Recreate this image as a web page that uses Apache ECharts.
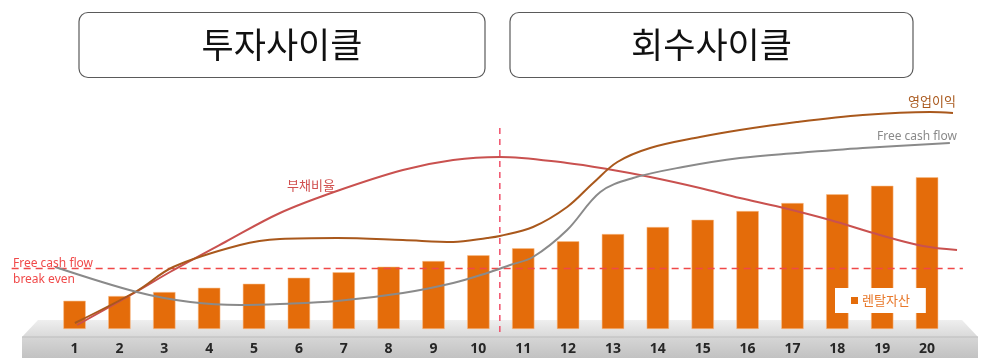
<!DOCTYPE html>
<html>
<head>
<meta charset="utf-8">
<style>
  html, body { margin: 0; padding: 0; background: #ffffff; }
  #chart { width: 989px; height: 358px; }
</style>
<script src="https://cdn.jsdelivr.net/npm/echarts@6/dist/echarts.min.js"></script>
</head>
<body>
<div id="chart"></div>
<script>
// ---- data ----
const categories = ['1','2','3','4','5','6','7','8','9','10','11','12','13','14','15','16','17','18','19','20'];
const rentalAssets = [11.3, 13.2, 14.8, 16.5, 18.1, 20.5, 22.7, 24.9, 27.2, 29.5, 32.3, 35.1, 38.0, 40.8, 43.7, 47.2, 50.4, 53.9, 57.3, 60.7];
const debtRatio = [[1.06,1.6],[2.39,15.0],[3.13,22.8],[4.36,34.8],[5.58,46.4],[6.85,55.2],[8.32,63.6],[9.44,67.6],[10.48,68.8],[11.98,66.4],[12.87,64.0],[13.83,60.8],[14.94,56.4],[15.83,52.4],[16.72,48.8],[17.84,43.6],[18.95,37.6],[19.91,33.2],[20.67,31.6]];
const operatingProfit = [[1.01,2.4],[2.39,15.2],[3.2,24.8],[4.69,33.6],[5.58,36.0],[6.85,36.4],[8.32,35.6],[9.44,34.8],[10.2,36.4],[10.48,37.2],[11.22,40.8],[11.98,48.8],[12.56,58.4],[13.1,66.8],[13.83,72.4],[14.94,76.8],[15.83,79.6],[17.1,82.8],[18.57,85.6],[20.07,86.8],[20.58,86.4]];
const freeCashFlow = [[0.57,24.8],[2.39,14.8],[3.58,10.8],[4.69,9.6],[5.58,10.0],[6.85,11.2],[8.32,14.4],[9.44,18.4],[10.2,22.4],[10.71,25.6],[11.22,28.8],[11.98,39.6],[12.72,54.8],[13.45,60.4],[14.56,64.8],[15.83,68.4],[17.1,70.4],[18.57,72.4],[20.51,74.4]];
const breakEvenLevel = 24.2;
const breakEvenSpan = [-0.4, 20.8];
const cycleBoundary = 10.48;
const cycleBoundarySpan = [-1.2, 81.6];
const cycleTitles = ['투자사이클', '회수사이클'];

// ---- chart ----
const chart = echarts.init(document.getElementById('chart'));
const KR = "'Noto Sans CJK KR', 'Noto Sans', sans-serif";

function cycleBox(x, w, label) {
  return {
    type: 'group',
    children: [
      { type: 'rect', shape: { x: x, y: 12.5, width: w, height: 65, r: 9 },
        style: { fill: '#ffffff', stroke: '#5a5a5a', lineWidth: 1.2 } },
      { type: 'text', x: x + w / 2, y: 45,
        style: { text: label, font: "35px " + KR, fill: '#111111', textAlign: 'center', textVerticalAlign: 'middle' } }
    ]
  };
}

chart.setOption({
  animation: false,
  backgroundColor: '#ffffff',
  grid: [
    { left: 11.65, right: 17.15, top: 79, bottom: 19 },
    { left: 52.1, right: 39.5, top: 79, bottom: 19 }
  ],
  xAxis: [
    { type: 'value', gridIndex: 0, min: -0.4, max: 21, show: false },
    { type: 'category', gridIndex: 1, data: categories, z: 5,
      axisLine: { show: false, onZero: false }, axisTick: { show: false }, splitLine: { show: false },
      axisLabel: { margin: 3, fontSize: 14, fontWeight: 'bold', color: '#262626', fontFamily: "'Noto Sans', sans-serif" } }
  ],
  yAxis: [
    { type: 'value', gridIndex: 0, min: -4, max: 100, show: false },
    { type: 'value', gridIndex: 1, min: -4, max: 100, show: false }
  ],
  legend: {
    data: ['렌탈자산'],
    left: 835, top: 288,
    padding: [6, 16],
    backgroundColor: '#ffffff',
    icon: 'rect', itemWidth: 7, itemHeight: 7, itemGap: 5,
    itemStyle: { borderWidth: 0, color: '#e46c0a' },
    textStyle: { color: '#e8782a', fontSize: 13, fontFamily: KR, padding: [0, 0, 0, -1] }
  },
  graphic: [
    // platform
    { type: 'polygon', z: -10, shape: { points: [[38,320],[962,320],[978,337],[22,337]] },
      style: { fill: new echarts.graphic.LinearGradient(0,0,0,1,[{offset:0,color:'#efefef'},{offset:1,color:'#d9d9d9'}]) } },
    { type: 'rect', z: -10, shape: { x: 22, y: 337, width: 956, height: 21 },
      style: { fill: new echarts.graphic.LinearGradient(0,0,0,1,[{offset:0,color:'#d6d6d6'},{offset:1,color:'#c2c2c2'}]) } },
    { type: 'line', z: -9, shape: { x1: 22, y1: 337, x2: 978, y2: 337 }, style: { stroke: '#bdbdbd', lineWidth: 1 } },
    cycleBox(79, 406, cycleTitles[0]),
    cycleBox(510, 403, cycleTitles[1]),
    { type: 'text', x: 932, y: 101, z: 10,
      style: { text: '영업이익', font: "13px " + KR, fill: '#a9581c', textAlign: 'center', textVerticalAlign: 'middle' } },
    { type: 'text', x: 917, y: 137, z: 10,
      style: { text: 'Free cash flow', font: "12px 'Noto Sans', sans-serif", fill: '#8a8a8a', textAlign: 'center', textVerticalAlign: 'middle' } },
    { type: 'text', x: 311, y: 185, z: 10,
      style: { text: '부채비율', font: "13px " + KR, fill: '#d0504f', textAlign: 'center', textVerticalAlign: 'middle' } },
    { type: 'text', x: 13, y: 264, z: 10,
      style: { text: 'Free cash flow', font: "12px 'Noto Sans', sans-serif", fill: '#f04a4a', textAlign: 'left', textVerticalAlign: 'middle' } },
    { type: 'text', x: 13, y: 280, z: 10,
      style: { text: 'break even', font: "12px 'Noto Sans', sans-serif", fill: '#f04a4a', textAlign: 'left', textVerticalAlign: 'middle' } }
  ],
  series: [
    { name: '렌탈자산', type: 'bar', xAxisIndex: 1, yAxisIndex: 1, data: rentalAssets, barWidth: 22.4,
      itemStyle: { color: '#e46c0a', borderColor: 'rgba(250,190,140,0.9)', borderWidth: 0.6 } },
    { name: 'FCF break even', type: 'line', xAxisIndex: 0, yAxisIndex: 0, symbol: 'none', clip: false,
      data: breakEvenSpan.map(x => [x, breakEvenLevel]),
      lineStyle: { color: '#f04848', width: 1.5, type: [7, 5] }, z: 3 },
    { name: 'cycle boundary', type: 'line', xAxisIndex: 0, yAxisIndex: 0, symbol: 'none', clip: false,
      data: cycleBoundarySpan.map(y => [cycleBoundary, y]),
      lineStyle: { color: '#f0506a', width: 1.5, type: [6, 5] }, z: 3 },
    { name: '부채비율', type: 'line', xAxisIndex: 0, yAxisIndex: 0, symbol: 'none', smooth: 0.35, clip: false,
      data: debtRatio, lineStyle: { color: '#c9514f', width: 2 }, z: 4 },
    { name: '영업이익', type: 'line', xAxisIndex: 0, yAxisIndex: 0, symbol: 'none', smooth: 0.35, clip: false,
      data: operatingProfit, lineStyle: { color: '#a9581c', width: 2 }, z: 4 },
    { name: 'Free cash flow', type: 'line', xAxisIndex: 0, yAxisIndex: 0, symbol: 'none', smooth: 0.35, clip: false,
      data: freeCashFlow, lineStyle: { color: '#8a8a8a', width: 2 }, z: 4 }
  ]
});
</script>
</body>
</html>
